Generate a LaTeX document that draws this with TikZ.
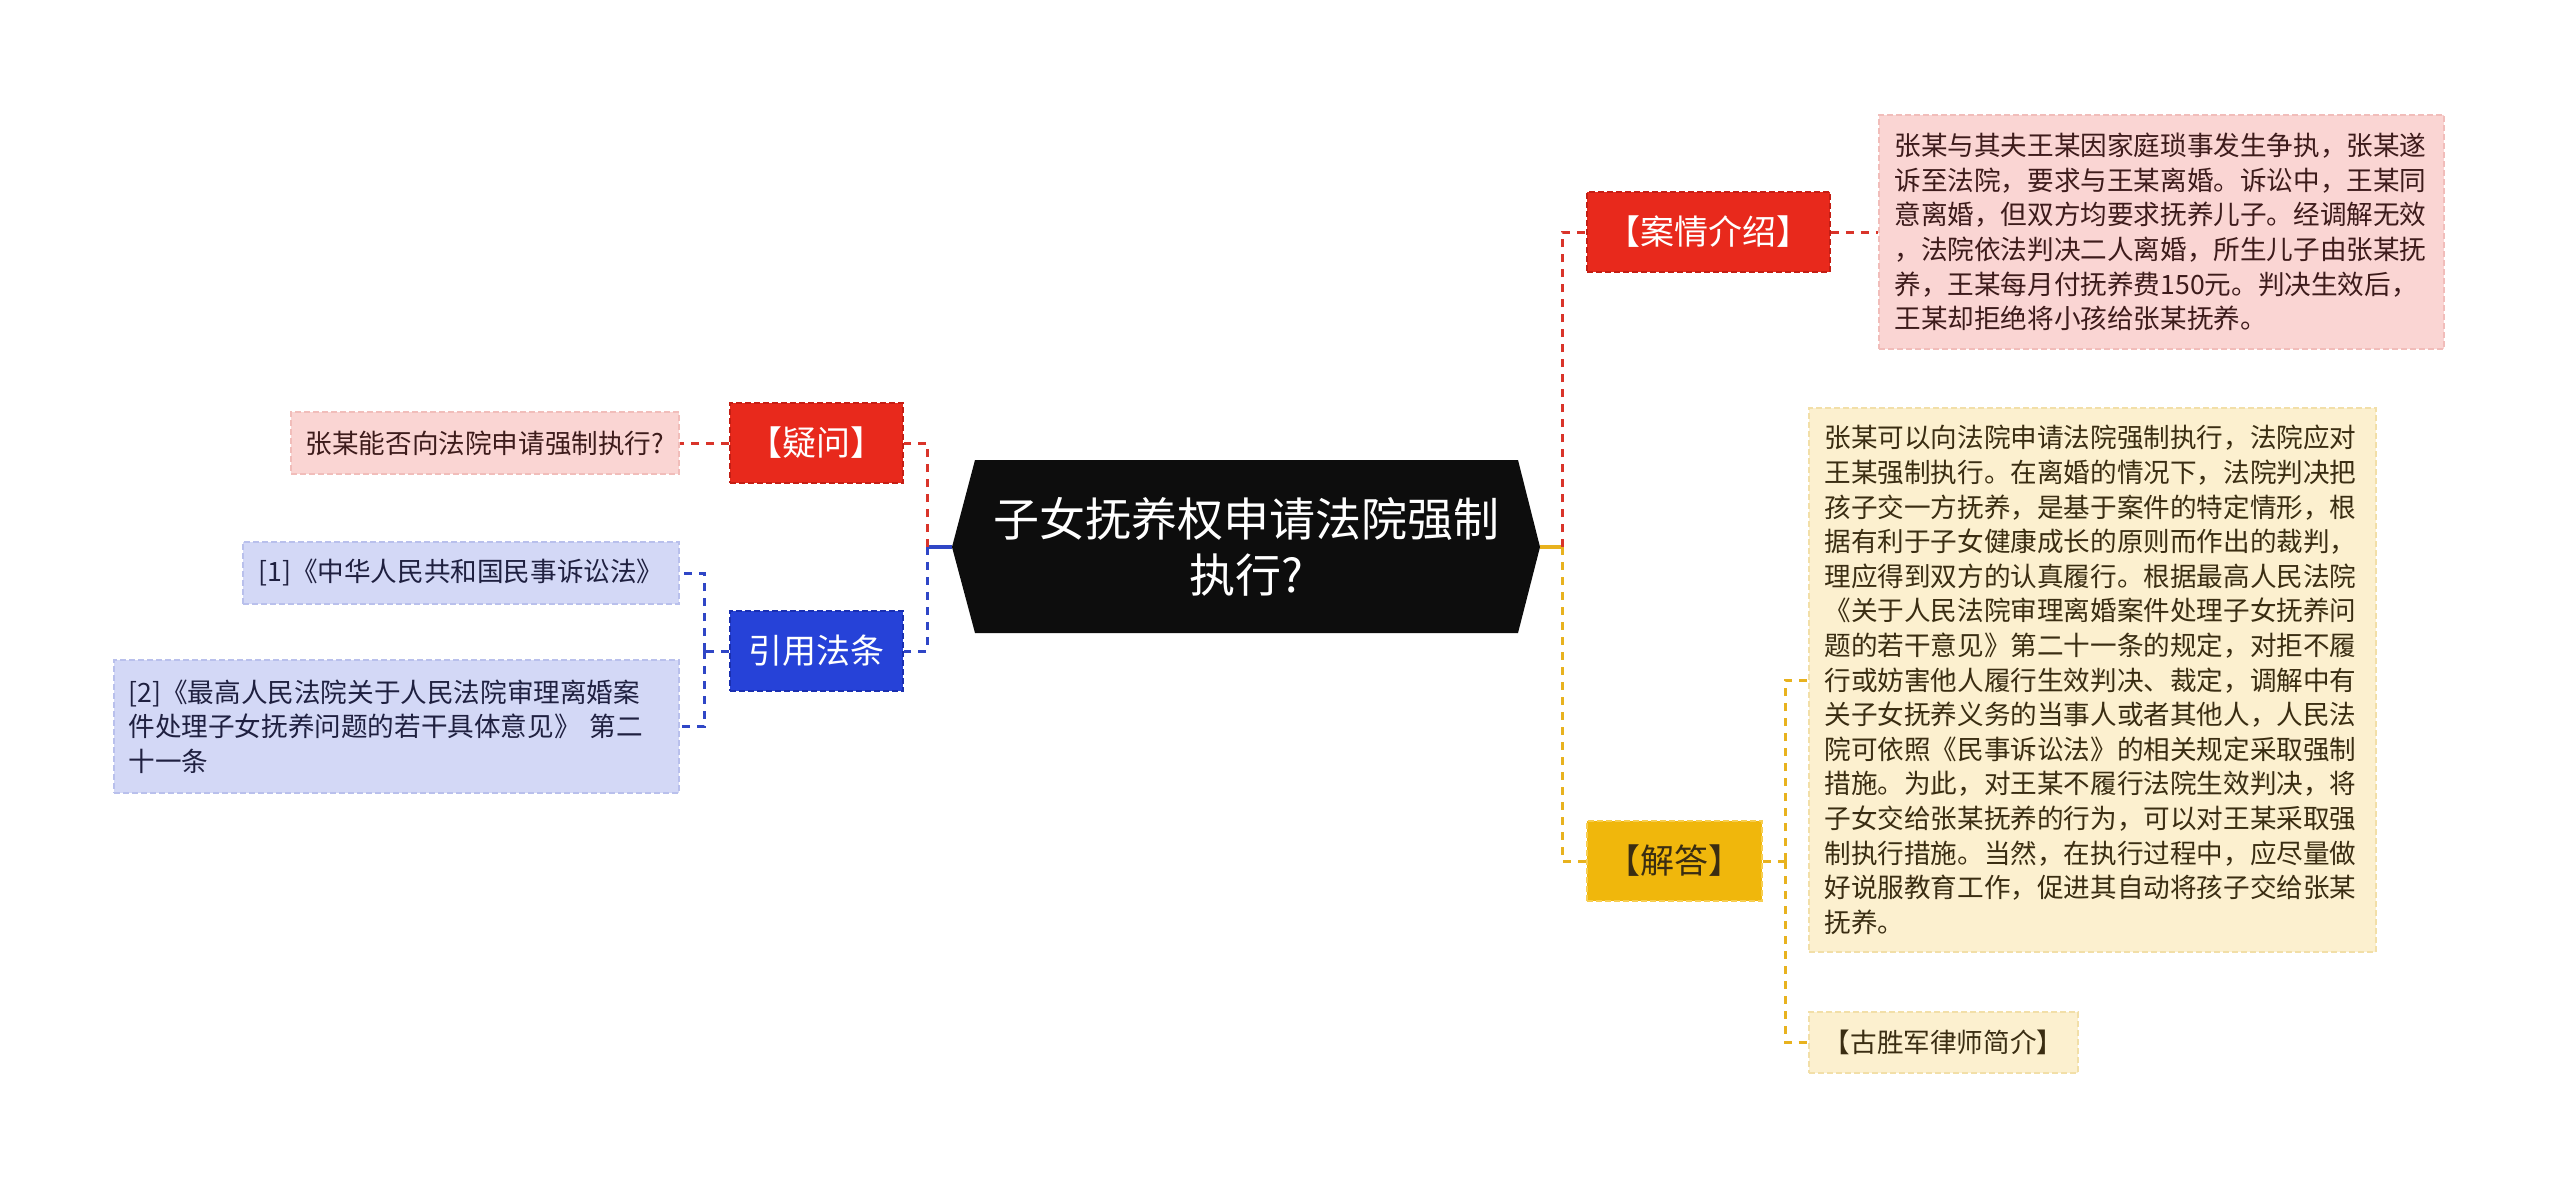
\documentclass[tikz,border=0pt]{standalone}
\usepackage{fontspec}
\newfontfamily\cjk{Noto Sans CJK SC}
\definecolor{cred}{HTML}{E8291C}
\definecolor{credb}{HTML}{C41E14}
\definecolor{cpink}{HTML}{FAD5D3}
\definecolor{cpinkb}{HTML}{F1BDBA}
\definecolor{cyel}{HTML}{F0B70C}
\definecolor{cyelb}{HTML}{F7CE50}
\definecolor{clyel}{HTML}{FCF0CF}
\definecolor{clyelb}{HTML}{F2DFA8}
\definecolor{cblue}{HTML}{2642D8}
\definecolor{cblueb}{HTML}{1A2FB0}
\definecolor{clblue}{HTML}{D3D8F6}
\definecolor{clblueb}{HTML}{B9C0EC}
\definecolor{lred}{HTML}{D9342A}
\definecolor{lyel}{HTML}{E8B21E}
\definecolor{lblue}{HTML}{2F46C6}
\definecolor{tred}{HTML}{3D1B1B}
\definecolor{tyel}{HTML}{3A2D12}
\definecolor{tblue}{HTML}{1F2040}
\begin{document}
\begin{tikzpicture}[x=0.5pt,y=-0.5pt,
  lvl1/.style={rectangle, inner sep=0pt, minimum height=40pt, dashed, dash pattern=on 3pt off 1.5pt, line width=0.8pt,
    font=\cjk\fontsize{17}{20}\selectfont},
  leaf/.style={rectangle, inner sep=0pt, dashed, dash pattern=on 3pt off 1.5pt, line width=0.7pt,
    font=\cjk\fontsize{13.3}{17.3}\selectfont},
  conn/.style={line width=1.5pt, dash pattern=on 4pt off 3.5pt},
  stub/.style={line width=1.6pt}]
\useasboundingbox (0,0) rectangle (2560,1188);
\fill[white] (0,0) rectangle (2560,1188);

% central node
\fill[black!95] (952,547) -- (975,460) -- (1518,460) -- (1540,547) -- (1518,633) -- (975,633) -- cycle;
\node[font=\cjk\fontsize{23}{28}\selectfont, text=white, align=center, inner sep=0pt] (root) at (1246,547) {子女抚养权申请法院强制\\执行?};
\coordinate (rootL) at (952,547);
\coordinate (rootR) at (1540,547);

% right side level 1
\node[lvl1, fill=cred, draw=credb, text=white, minimum width=121.5pt] (case) at (1708.5,232) {【案情介绍】};
\node[lvl1, fill=cyel, draw=cyelb, text=tyel, minimum width=87.5pt] (ans) at (1674.5,861) {【解答】};

% left side level 1
\node[lvl1, fill=cred, draw=credb, text=white, minimum width=86.5pt] (q) at (816.5,443) {【疑问】};
\node[lvl1, fill=cblue, draw=cblueb, text=white, minimum width=86.5pt] (law) at (816.5,651) {引用法条};

% right leaves
\node[leaf, fill=cpink, draw=cpinkb, text=tred, minimum width=282.5pt, minimum height=117pt, text width=267pt, align=left] (caseTxt) at (2161.5,232) {张某与其夫王某因家庭琐事发生争执，张某遂\\诉至法院，要求与王某离婚。诉讼中，王某同\\意离婚，但双方均要求抚养儿子。经调解无效\\，法院依法判决二人离婚，所生儿子由张某抚\\养，王某每月付抚养费150元。判决生效后，\\王某却拒绝将小孩给张某抚养。};

\node[leaf, fill=clyel, draw=clyelb, text=tyel, minimum width=283.5pt, minimum height=272pt, text width=268pt, align=left] (ansTxt) at (2092.5,680) {张某可以向法院申请法院强制执行，法院应对\\王某强制执行。在离婚的情况下，法院判决把\\孩子交一方抚养，是基于案件的特定情形，根\\据有利于子女健康成长的原则而作出的裁判，\\理应得到双方的认真履行。根据最高人民法院\\《关于人民法院审理离婚案件处理子女抚养问\\题的若干意见》第二十一条的规定，对拒不履\\行或妨害他人履行生效判决、裁定，调解中有\\关子女抚养义务的当事人或者其他人，人民法\\院可依照《民事诉讼法》的相关规定采取强制\\措施。为此，对王某不履行法院生效判决，将\\子女交给张某抚养的行为，可以对王某采取强\\制执行措施。当然，在执行过程中，应尽量做\\好说服教育工作，促进其自动将孩子交给张某\\抚养。};

\node[leaf, fill=clyel, draw=clyelb, text=tyel, minimum width=134.5pt, minimum height=30.5pt] (lawyer) at (1943.5,1042.5) {【古胜军律师简介】};

% left leaves
\node[leaf, fill=cpink, draw=cpinkb, text=tred, minimum width=194pt, minimum height=31pt] (qTxt) at (485,443) {张某能否向法院申请强制执行?};
\node[leaf, fill=clblue, draw=clblueb, text=tblue, minimum width=218pt, minimum height=31pt] (law1) at (461,573) {[1]《中华人民共和国民事诉讼法》};
\node[leaf, fill=clblue, draw=clblueb, text=tblue, minimum width=282.5pt, minimum height=66.5pt, text width=268pt, align=left] (law2) at (396.5,726.5) {[2]《最高人民法院关于人民法院审理离婚案\\件处理子女抚养问题的若干具体意见》 第二\\十一条};

% connectors right
\coordinate (rj) at (1562,547);
\draw[stub, lyel] (rootR) -- (rj);
\draw[conn, lred] (rj) |- (case.west);
\draw[conn, lyel] (rj) |- (ans.west);
\draw[conn, lred] (case.east) -- (caseTxt.west);
\coordinate (aj) at (1785,861);
\draw[conn, lyel] (ans.east) -- (aj);
\draw[conn, lyel] (aj) |- (ansTxt.west);
\draw[conn, lyel] (aj) |- (lawyer.west);

% connectors left
\coordinate (lj) at (927,547);
\draw[stub, lblue] (rootL) -- (lj);
\draw[conn, lred] (lj) |- (q.east);
\draw[conn, lblue] (lj) |- (law.east);
\draw[conn, lred] (q.west) -- (qTxt.east);
\coordinate (bj) at (704,651);
\draw[conn, lblue] (law.west) -- (bj);
\draw[conn, lblue] (bj) |- (law1.east);
\draw[conn, lblue] (bj) |- (law2.east);
\end{tikzpicture}
\end{document}
